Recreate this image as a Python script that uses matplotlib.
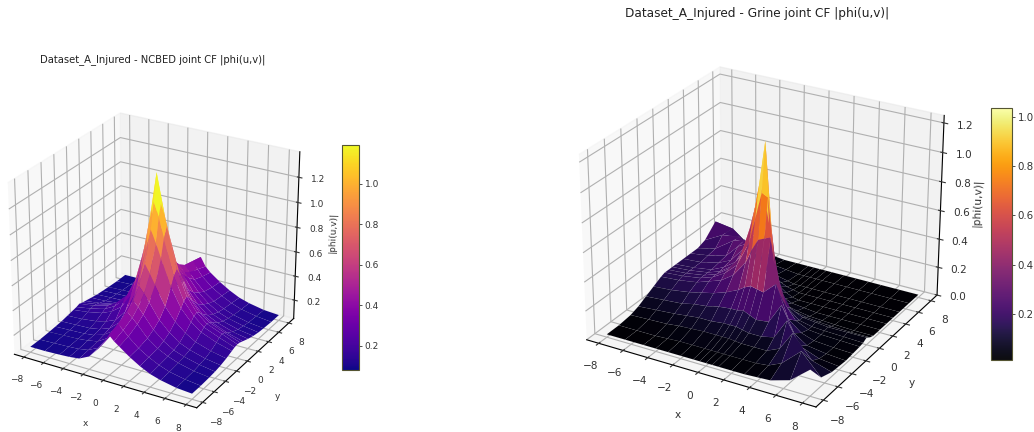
import numpy as np
import matplotlib
matplotlib.use("Agg")
import matplotlib.pyplot as plt
from matplotlib.cm import ScalarMappable
from matplotlib.colors import Normalize

# grid nodes, denser round the peak
nodes = [-8, -6.5, -5, -4, -3, -2, -1, -0.5, 0, 0.5, 1, 2, 3, 4, 5, 6.5, 8]

# |phi(u,v)|, one row per y (from -8 to 8), columns follow x
ncbed_z = [
    [.09, .09, .095, .10, .11, .15, .24, .30, .37, .33, .30, .24, .19, .15, .125, .10, .09],
    [.09, .095, .10, .105, .12, .16, .26, .33, .40, .36, .32, .25, .20, .16, .13, .105, .09],
    [.095, .10, .105, .115, .13, .18, .28, .36, .44, .40, .36, .27, .21, .17, .14, .11, .095],
    [.10, .105, .11, .12, .145, .20, .31, .40, .49, .45, .40, .30, .23, .18, .15, .12, .10],
    [.105, .11, .115, .13, .16, .23, .36, .47, .57, .52, .46, .34, .26, .20, .165, .13, .11],
    [.115, .12, .135, .155, .19, .28, .45, .58, .71, .64, .56, .41, .31, .24, .19, .15, .125],
    [.125, .14, .165, .20, .26, .38, .62, .78, .95, .85, .74, .53, .38, .29, .23, .18, .145],
    [.13, .15, .18, .225, .30, .44, .74, .96, 1.15, 1.04, .88, .60, .42, .32, .25, .20, .155],
    [.14, .155, .19, .24, .32, .49, .82, 1.08, 1.36, 1.16, .96, .64, .44, .33, .26, .21, .16],
    [.13, .15, .18, .225, .30, .44, .74, .95, 1.13, 1.02, .86, .58, .41, .31, .25, .20, .155],
    [.125, .14, .165, .20, .26, .38, .62, .77, .92, .83, .72, .51, .37, .28, .23, .18, .145],
    [.115, .12, .135, .155, .19, .28, .45, .57, .68, .62, .55, .40, .30, .23, .19, .15, .125],
    [.105, .11, .115, .13, .16, .23, .36, .46, .56, .51, .46, .34, .26, .20, .165, .13, .11],
    [.10, .105, .11, .12, .145, .20, .31, .40, .49, .44, .40, .30, .23, .18, .15, .12, .10],
    [.095, .10, .105, .115, .13, .18, .28, .36, .45, .40, .35, .27, .21, .17, .14, .11, .095],
    [.09, .095, .10, .105, .12, .16, .25, .33, .43, .37, .32, .25, .20, .16, .13, .105, .09],
    [.09, .09, .095, .10, .11, .15, .23, .30, .41, .34, .30, .24, .19, .15, .125, .10, .09],
]
grine_z = [
    [.02, .02, .02, .02, .02, .02, .02, .02, .02, .02, .02, .02, .02, .025, .03, .07, .18],
    [.02, .02, .02, .025, .03, .03, .03, .03, .03, .03, .03, .03, .03, .04, .08, .20, .06],
    [.03, .035, .04, .05, .055, .06, .06, .06, .06, .055, .05, .05, .05, .09, .22, .07, .03],
    [.05, .06, .07, .08, .09, .09, .10, .10, .10, .09, .08, .08, .10, .24, .09, .04, .025],
    [.08, .09, .10, .12, .13, .15, .16, .16, .17, .15, .13, .14, .28, .11, .05, .03, .02],
    [.11, .12, .14, .16, .18, .21, .25, .28, .30, .29, .28, .36, .14, .07, .04, .03, .025],
    [.14, .15, .17, .20, .23, .29, .40, .50, .58, .60, .62, .20, .09, .05, .04, .035, .03],
    [.15, .16, .18, .21, .26, .34, .52, .70, .88, .86, .42, .14, .07, .05, .045, .04, .035],
    [.15, .16, .18, .21, .27, .38, .66, .90, 1.21, .62, .26, .11, .07, .06, .05, .05, .05],
    [.15, .16, .18, .21, .27, .40, .76, .88, .64, .26, .13, .07, .05, .04, .035, .03, .03],
    [.15, .16, .18, .22, .28, .46, .72, .46, .28, .13, .07, .05, .035, .03, .025, .02, .02],
    [.15, .16, .19, .23, .33, .46, .26, .16, .10, .06, .04, .03, .02, .02, .02, .02, .02],
    [.15, .17, .20, .29, .34, .20, .12, .08, .05, .03, .02, .02, .02, .02, .02, .02, .02],
    [.15, .18, .27, .30, .17, .10, .06, .04, .03, .02, .02, .02, .02, .02, .02, .02, .02],
    [.17, .24, .26, .15, .08, .05, .03, .02, .02, .02, .02, .02, .02, .02, .02, .02, .02],
    [.25, .23, .13, .07, .04, .03, .02, .02, .02, .02, .02, .02, .02, .02, .02, .02, .02],
    [.10, .07, .05, .03, .02, .02, .02, .02, .02, .02, .02, .02, .02, .02, .02, .02, .02],
]
xy_ticks = [-8, -6, -4, -2, 0, 2, 4, 6, 8]
ncbed_zticks = [0.2, 0.4, 0.6, 0.8, 1.0, 1.2]
grine_zticks = [0.0, 0.2, 0.4, 0.6, 0.8, 1.0, 1.2]
ncbed_cticks = [0.2, 0.4, 0.6, 0.8, 1.0]
grine_cticks = [0.2, 0.4, 0.6, 0.8, 1.0]

W, H = 1034, 432


def px_rect(x0, y0, x1, y1):
    # pixel box, top-left origin -> figure fractions
    return [x0 / W, 1 - y1 / H, (x1 - x0) / W, (y1 - y0) / H]


def panel(rect, z, cmap, vmin, vmax, zlim, zticks, fs, edge, aspect_z, zoom, zpad):
    ax = fig.add_axes(px_rect(*rect), projection="3d")
    ax.view_init(elev=26, azim=-60)
    ax.set_box_aspect((4, 4, aspect_z), zoom=zoom)
    X, Y = np.meshgrid(nodes, nodes)
    ax.plot_surface(X, Y, np.array(z), cmap=cmap, vmin=vmin, vmax=vmax,
                    rstride=1, cstride=1, linewidth=0.2, edgecolor=edge, antialiased=True)
    ax.set_xlim(-9, 9)
    ax.set_ylim(-9, 9)
    ax.set_zlim(*zlim)
    ax.set_xticks(xy_ticks)
    ax.set_yticks(xy_ticks)
    ax.set_zticks(zticks)
    ax.tick_params(labelsize=fs, pad=1, colors="#333333")
    ax.set_xlabel("x", fontsize=fs, labelpad=0, color="#333333")
    ax.set_ylabel("y", fontsize=fs, labelpad=0, color="#333333")
    ax.set_zlabel("|phi(u,v)|", fontsize=fs, labelpad=zpad, color="#333333")
    return ax


def cbar(rect, cmap, vmin, vmax, ticks, fs, alpha=1.0):
    cax = fig.add_axes(px_rect(*rect))
    sm = ScalarMappable(norm=Normalize(vmin, vmax), cmap=cmap)
    cb = fig.colorbar(sm, cax=cax, alpha=alpha)
    cb.set_ticks(ticks)
    cb.ax.tick_params(labelsize=fs, length=2, width=0.6, pad=2, colors="#333333")
    cb.outline.set_edgecolor("#555533")
    cb.outline.set_linewidth(0.8)


fig = plt.figure(figsize=(W / 100, H / 100), dpi=100)

panel((-18, 88, 322, 428), ncbed_z, "plasma", 0.08, 1.19, (0.045, 1.4), ncbed_zticks, 6.5,
      (1, 1, 1, 0.04), 3.6, 1.0, -4)
cbar((342, 145, 359, 370), "plasma", 0.08, 1.19, ncbed_cticks, 6.5)
fig.text(40 / W, 1 - 60 / H, "Dataset_A_Injured - NCBED joint CF |phi(u,v)|", fontsize=7.2,
         va="center", color="#222222")

panel((550, 36, 970, 430), grine_z, "inferno", 0.012, 1.037, (0.0, 1.25), grine_zticks, 7.6,
      (1, 1, 1, 0.1), 3.1, 1.04, -5)
cbar((991, 108, 1012, 360), "inferno", 0.012, 1.037, grine_cticks, 7.4, alpha=0.95)
fig.text(625 / W, 1 - 14 / H, "Dataset_A_Injured - Grine joint CF |phi(u,v)|", fontsize=8.7,
         va="center", color="#222222")

fig.savefig("out.png", dpi=100)
